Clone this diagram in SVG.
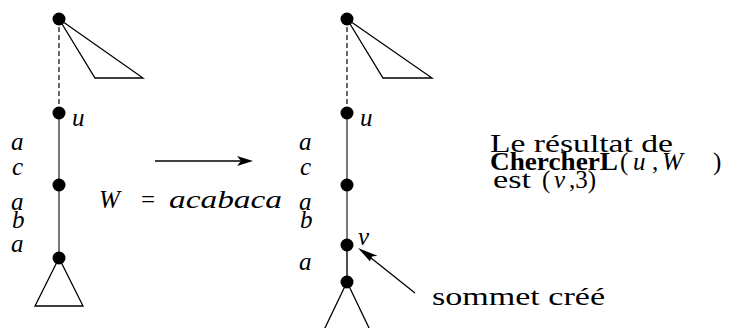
<svg xmlns="http://www.w3.org/2000/svg" width="731" height="328" viewBox="0 0 731 328">
<g id="connectors" fill="none" stroke-width="1.6">
<line stroke="#444" stroke-dasharray="5,3" x1="59" y1="19" x2="59" y2="113"/>
<line stroke="#555" x1="59" y1="113" x2="59" y2="258"/>
<line stroke="#444" stroke-dasharray="5,3" x1="347" y1="19" x2="347" y2="113"/>
<line stroke="#555" x1="347" y1="113" x2="347" y2="245"/>
<line stroke="#222" x1="347" y1="245" x2="347" y2="282"/>
<line stroke="#000" stroke-width="1.3" x1="155" y1="161" x2="243" y2="161"/>
<path d="M253,161 L237,156 L241,161 L237,166 Z" fill="#000" stroke="none"/>
<line stroke="#000" stroke-width="1.3" x1="415" y1="293" x2="366" y2="254"/>
<path d="M358,248 L377.4,255.7 L372.1,256.4 L369.9,261.3 Z" fill="#000" stroke="none"/>
</g>
<g id="left-tree">
<polygon fill="none" stroke="#000" stroke-width="1.3" points="59,19 95,78 143,78"/>
<polygon fill="none" stroke="#000" stroke-width="1.3" points="59,258 35,306 83,306"/>
<circle cx="59" cy="19" r="6.5"/>
<circle cx="59" cy="113" r="6.5"/>
<circle cx="59" cy="185" r="6.5"/>
<circle cx="59" cy="258" r="6.5"/>
<text font-family="Liberation Serif" font-size="25" font-style="italic" x="72" y="126">u</text>
<text font-family="Liberation Serif" font-size="25" font-style="italic" x="11" y="150">a</text>
<text font-family="Liberation Serif" font-size="25" font-style="italic" x="12" y="175">c</text>
<text font-family="Liberation Serif" font-size="25" font-style="italic" x="11" y="210">a</text>
<text font-family="Liberation Serif" font-size="25" font-style="italic" x="12" y="228">b</text>
<text font-family="Liberation Serif" font-size="25" font-style="italic" x="11" y="252">a</text>
</g>
<g id="right-tree">
<polygon fill="none" stroke="#000" stroke-width="1.3" points="347,19 383,78 432,78"/>
<line stroke="#000" stroke-width="1.3" x1="347" y1="282" x2="324" y2="330"/>
<line stroke="#000" stroke-width="1.3" x1="347" y1="282" x2="370" y2="330"/>
<circle cx="347" cy="19" r="6.5"/>
<circle cx="347" cy="113" r="6.5"/>
<circle cx="347" cy="185" r="6.5"/>
<circle cx="347" cy="245" r="6.5"/>
<circle cx="347" cy="282" r="6.5"/>
<text font-family="Liberation Serif" font-size="25" font-style="italic" x="360" y="126">u</text>
<text font-family="Liberation Serif" font-size="25" font-style="italic" x="358" y="245">v</text>
<text font-family="Liberation Serif" font-size="25" font-style="italic" x="299" y="150">a</text>
<text font-family="Liberation Serif" font-size="25" font-style="italic" x="300" y="175">c</text>
<text font-family="Liberation Serif" font-size="25" font-style="italic" x="299" y="210">a</text>
<text font-family="Liberation Serif" font-size="25" font-style="italic" x="300" y="228">b</text>
<text font-family="Liberation Serif" font-size="25" font-style="italic" x="299" y="270">a</text>
</g>
<g id="word">
<text font-family="Liberation Serif" font-size="25" y="208"><tspan font-style="italic" x="99">W</tspan><tspan x="141">=</tspan><tspan font-style="italic" x="169" textLength="113" lengthAdjust="spacingAndGlyphs">acabaca</tspan></text>
</g>
<g id="result">
<text font-family="Liberation Serif" font-size="25" x="490" y="152" textLength="183" lengthAdjust="spacingAndGlyphs">Le résultat de</text>
<text font-family="Liberation Serif" font-size="25" y="170"><tspan font-weight="bold" x="490" textLength="128" lengthAdjust="spacingAndGlyphs">ChercherL</tspan><tspan x="620">(</tspan><tspan font-style="italic" x="633">u</tspan><tspan x="652">,</tspan><tspan font-style="italic" x="662">W</tspan><tspan x="713">)</tspan></text>
<text font-family="Liberation Serif" font-size="25" y="188"><tspan x="493" textLength="38" lengthAdjust="spacingAndGlyphs">est</tspan><tspan x="542">(</tspan><tspan font-style="italic" x="554">v</tspan><tspan x="569">,3)</tspan></text>
</g>
<g id="label-created">
<text font-family="Liberation Serif" font-size="25" x="432" y="305" textLength="173" lengthAdjust="spacingAndGlyphs">sommet créé</text>
</g>
</svg>
